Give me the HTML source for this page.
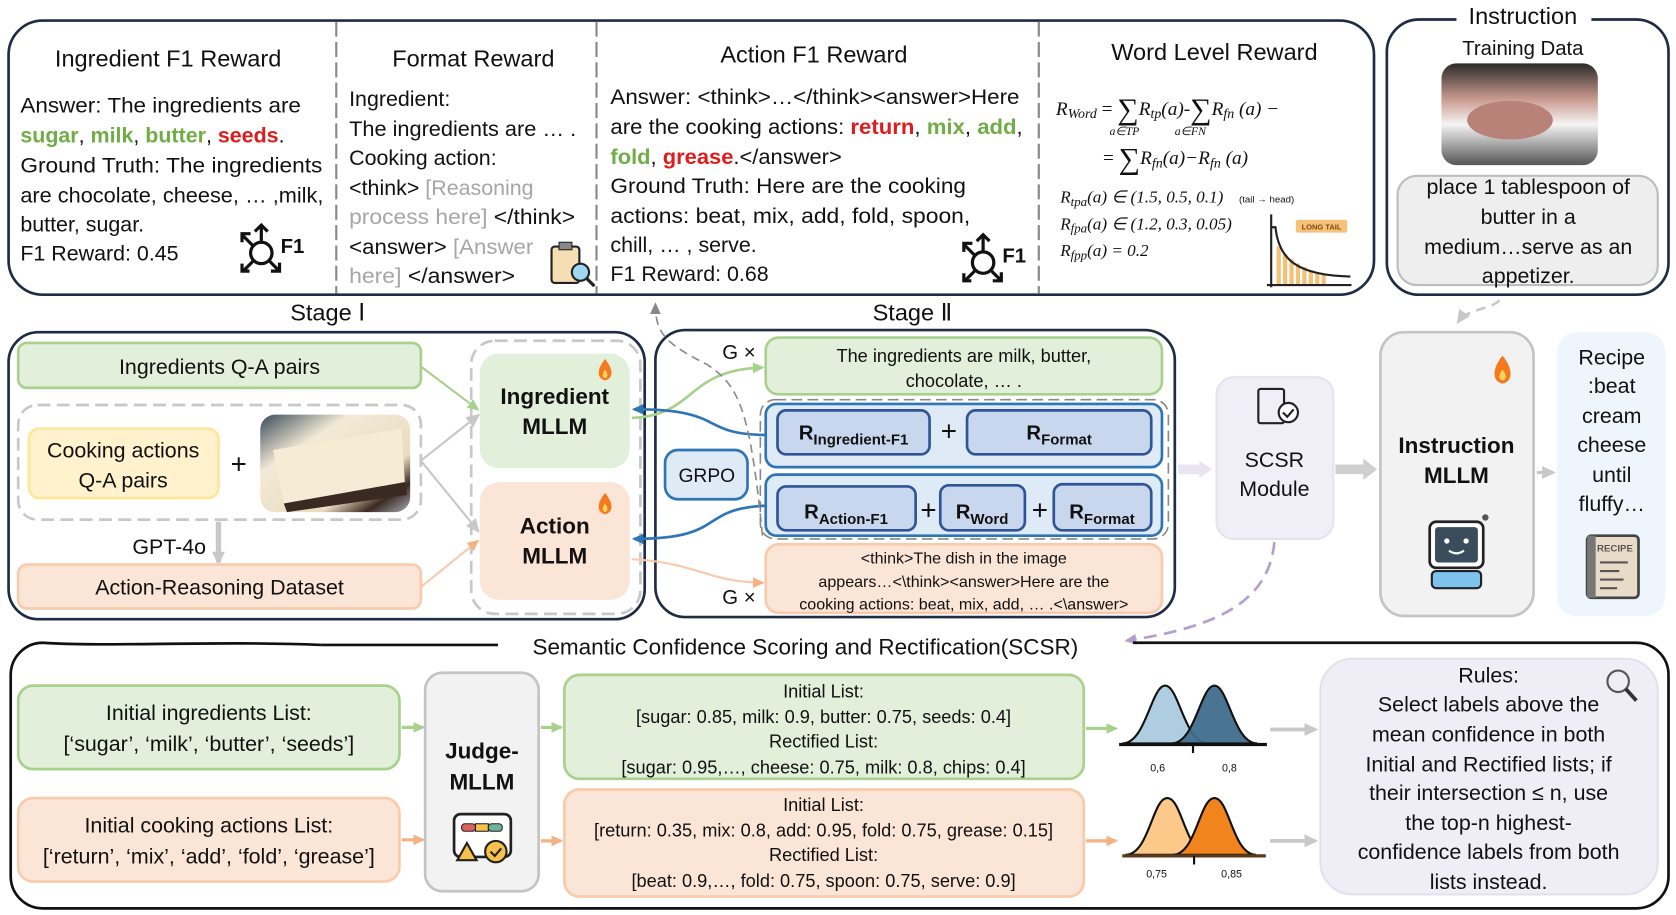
<!DOCTYPE html>
<html><head><meta charset="utf-8"><style>
html,body{margin:0;padding:0;background:#fff}
svg{display:block}
text{font-family:"Liberation Sans","DejaVu Sans",sans-serif;fill:#111}
.c{text-anchor:middle}
.g{fill:#70ad47;font-weight:bold}
.r{fill:#e01b1b;font-weight:bold}
.gr{fill:#a6a6a6}
.b{font-weight:bold}
.m{font-family:"Liberation Serif",serif;font-style:italic}
</style></head><body>
<svg width="1676" height="915" viewBox="0 0 1565 854" xmlns="http://www.w3.org/2000/svg">
<defs>
<marker id="ag" markerUnits="userSpaceOnUse" markerWidth="12" markerHeight="12" refX="9" refY="6" orient="auto"><path d="M0,1L11,6L0,11z" fill="#a9d18e"/></marker>
<marker id="ao" markerUnits="userSpaceOnUse" markerWidth="12" markerHeight="12" refX="9" refY="6" orient="auto"><path d="M0,1L11,6L0,11z" fill="#f4b183"/></marker>
<marker id="ab" markerUnits="userSpaceOnUse" markerWidth="12" markerHeight="12" refX="9" refY="6" orient="auto"><path d="M0,1L11,6L0,11z" fill="#2e75b6"/></marker>
<marker id="ay" markerUnits="userSpaceOnUse" markerWidth="14" markerHeight="14" refX="10" refY="7" orient="auto"><path d="M0,1L13,7L0,13z" fill="#c8c8c8"/></marker>
<marker id="ad" markerUnits="userSpaceOnUse" markerWidth="12" markerHeight="12" refX="9" refY="6" orient="auto"><path d="M0,1L11,6L0,11z" fill="#888"/></marker>
<marker id="ap" markerUnits="userSpaceOnUse" markerWidth="12" markerHeight="12" refX="9" refY="6" orient="auto"><path d="M0,1L11,6L0,11z" fill="#b4a0d0"/></marker>
<linearGradient id="cake" x1="0" y1="0" x2="1" y2="1"><stop offset="0" stop-color="#3a4a5a"/><stop offset="0.3" stop-color="#f3ead6"/><stop offset="0.7" stop-color="#e9dcc0"/><stop offset="0.85" stop-color="#3b2a22"/><stop offset="1" stop-color="#a9adb5"/></linearGradient>
<linearGradient id="food" x1="0" y1="0" x2="0" y2="1"><stop offset="0" stop-color="#2b2b2b"/><stop offset="0.35" stop-color="#c99a8e"/><stop offset="0.6" stop-color="#f4f4f4"/><stop offset="1" stop-color="#555"/></linearGradient>
</defs>

<!-- TOP REWARD BOX -->
<rect x="8" y="19" width="1275" height="256" rx="32" fill="#fff" stroke="#1f2d44" stroke-width="2.5"/>
<line x1="314" y1="20" x2="314" y2="274" stroke="#888" stroke-width="2" stroke-dasharray="14,5"/>
<line x1="557" y1="20" x2="557" y2="274" stroke="#888" stroke-width="2" stroke-dasharray="14,5"/>
<line x1="970" y1="20" x2="970" y2="274" stroke="#888" stroke-width="2" stroke-dasharray="14,5"/>

<text x="157" y="62" class="c" font-size="22">Ingredient F1 Reward</text>
<text x="19" y="105" font-size="20" textLength="262" lengthAdjust="spacingAndGlyphs">Answer: The ingredients are</text>
<text x="19" y="133" font-size="20"><tspan class="g">sugar</tspan>, <tspan class="g">milk</tspan>, <tspan class="g">butter</tspan>, <tspan class="r">seeds</tspan>.</text>
<text x="19" y="161" font-size="20" textLength="282" lengthAdjust="spacingAndGlyphs">Ground Truth: The ingredients</text>
<text x="19" y="189" font-size="20" textLength="283" lengthAdjust="spacingAndGlyphs">are chocolate, cheese, … ,milk,</text>
<text x="19" y="216" font-size="20">butter, sugar.</text>
<text x="19" y="243" font-size="20">F1 Reward: 0.45</text>
<g stroke="#111" stroke-width="3" fill="none">
<circle cx="244" cy="236" r="10"/><path d="M244 226V212M238 216l6-6 6 6M236 229l-10-10M226 226v-8h8M236 244l-9 9M226 246v7h7M252 244l8 8M253 253h8v-8"/></g>
<text x="262" y="236" font-size="19" class="b">F1</text>

<text x="442" y="62" class="c" font-size="22">Format Reward</text>
<text x="326" y="99" font-size="20">Ingredient:</text>
<text x="326" y="127" font-size="20" textLength="212" lengthAdjust="spacingAndGlyphs">The ingredients are … .</text>
<text x="326" y="154" font-size="20">Cooking action:</text>
<text x="326" y="182" font-size="20">&lt;think&gt; <tspan class="gr">[Reasoning</tspan></text>
<text x="326" y="209" font-size="20" textLength="211" lengthAdjust="spacingAndGlyphs"><tspan class="gr">process here]</tspan> &lt;/think&gt;</text>
<text x="326" y="237" font-size="20" textLength="172" lengthAdjust="spacingAndGlyphs">&lt;answer&gt; <tspan class="gr">[Answer</tspan></text>
<text x="326" y="264" font-size="20" textLength="155" lengthAdjust="spacingAndGlyphs"><tspan class="gr">here]</tspan> &lt;/answer&gt;</text>
<rect x="515" y="230" width="26" height="34" rx="3" fill="#f5deb3" stroke="#222" stroke-width="2"/>
<rect x="522" y="226" width="12" height="7" fill="#888" stroke="#222"/>
<circle cx="542" cy="254" r="8" fill="#9fd8f0" stroke="#222" stroke-width="2"/>
<line x1="548" y1="260" x2="555" y2="267" stroke="#222" stroke-width="3"/>

<text x="760" y="58" class="c" font-size="22">Action F1 Reward</text>
<text x="570" y="97" font-size="20" textLength="382" lengthAdjust="spacingAndGlyphs">Answer: &lt;think&gt;…&lt;/think&gt;&lt;answer&gt;Here</text>
<text x="570" y="125" font-size="20" textLength="385" lengthAdjust="spacingAndGlyphs">are the cooking actions: <tspan class="r">return</tspan>, <tspan class="g">mix</tspan>, <tspan class="g">add</tspan>,</text>
<text x="570" y="153" font-size="20" textLength="216" lengthAdjust="spacingAndGlyphs"><tspan class="g">fold</tspan>, <tspan class="r">grease</tspan>.&lt;/answer&gt;</text>
<text x="570" y="180" font-size="20" textLength="332" lengthAdjust="spacingAndGlyphs">Ground Truth: Here are the cooking</text>
<text x="570" y="208" font-size="20" textLength="336" lengthAdjust="spacingAndGlyphs">actions: beat, mix, add, fold, spoon,</text>
<text x="570" y="235" font-size="20">chill, … , serve.</text>
<text x="570" y="262" font-size="20">F1 Reward: 0.68</text>
<g stroke="#111" stroke-width="3" fill="none">
<circle cx="918" cy="245" r="10"/><path d="M918 235V221M912 225l6-6 6 6M910 238l-10-10M900 235v-8h8M910 253l-9 9M900 255v7h7M926 253l8 8M927 262h8v-8"/></g>
<text x="936" y="245" font-size="19" class="b">F1</text>

<text x="1134" y="56" class="c" font-size="22">Word Level Reward</text>
<text x="986" y="107" font-size="18" class="m">R<tspan font-size="13" dy="3">Word</tspan><tspan dy="-3" font-style="normal"> = </tspan><tspan font-style="normal" font-size="28" dy="4">∑</tspan><tspan dy="-4">R</tspan><tspan font-size="13" dy="3">tp</tspan><tspan dy="-3">(a)-</tspan><tspan font-style="normal" font-size="28" dy="4">∑</tspan><tspan dy="-4">R</tspan><tspan font-size="13" dy="3">fn</tspan><tspan dy="-3"> (a) −</tspan></text>
<text x="1036" y="126" font-size="11" class="m">a∈TP</text><text x="1097" y="126" font-size="11" class="m">a∈FN</text>
<text x="1030" y="153" font-size="18" class="m"><tspan font-style="normal">= </tspan><tspan font-style="normal" font-size="28" dy="4">∑</tspan><tspan dy="-4">R</tspan><tspan font-size="13" dy="3">fn</tspan><tspan dy="-3">(a)−R</tspan><tspan font-size="13" dy="3">fn</tspan><tspan dy="-3"> (a)</tspan></text>
<text x="990" y="189" font-size="16" class="m">R<tspan font-size="12" dy="3">tpa</tspan><tspan dy="-3">(a) ∈ (1.5, 0.5, 0.1)</tspan></text>
<text x="1157" y="189" font-size="9">(tail → head)</text>
<text x="990" y="214" font-size="16" class="m">R<tspan font-size="12" dy="3">fpa</tspan><tspan dy="-3">(a) ∈ (1.2, 0.3, 0.05)</tspan></text>
<text x="990" y="239" font-size="16" class="m">R<tspan font-size="12" dy="3">fpp</tspan><tspan dy="-3">(a) = 0.2</tspan></text>
<g fill="#f2c27a"><rect x="1192" y="230" width="4" height="35"/><rect x="1198" y="237" width="4" height="28"/><rect x="1204" y="242" width="4" height="23"/><rect x="1210" y="246" width="4" height="19"/><rect x="1216" y="249" width="4" height="16"/><rect x="1222" y="252" width="4" height="13"/><rect x="1228" y="254" width="4" height="11"/><rect x="1234" y="256" width="4" height="9"/></g>
<path d="M1187 200V268M1183 266H1262M1187 212h4c3 30 20 45 70 46" stroke="#222" stroke-width="2" fill="none"/>
<rect x="1210" y="205" width="48" height="12" rx="2" fill="#f6c27a"/><text x="1234" y="214" class="c" font-size="7" style="fill:#7a4a10" font-weight="bold">LONG TAIL</text>

<!-- INSTRUCTION BOX -->
<path d="M1360 18H1325a30 30 0 0 0-30 30V245a30 30 0 0 0 30 30H1528a30 30 0 0 0 30-30V48a30 30 0 0 0-30-30H1486" stroke="#1f2d44" stroke-width="2.5" fill="none"/>
<text x="1422" y="22" class="c" font-size="22">Instruction</text>
<text x="1422" y="51" class="c" font-size="19">Training Data</text>
<rect x="1346" y="59" width="146" height="95" rx="14" fill="url(#food)"/>
<ellipse cx="1410" cy="112" rx="40" ry="18" fill="#b88278"/>
<rect x="1305" y="164" width="243" height="102" rx="18" fill="#eeeeee" stroke="#bdbdbd" stroke-width="2"/>
<text x="1427" y="181" class="c" font-size="20">place 1 tablespoon of</text>
<text x="1427" y="209" class="c" font-size="20">butter in a</text>
<text x="1427" y="237" class="c" font-size="20">medium…serve as an</text>
<text x="1427" y="264" class="c" font-size="20">appetizer.</text>
<path d="M1400 280c-5 8-30 8-38 20" stroke="#c8c8c8" stroke-width="2.5" stroke-dasharray="9,6" fill="none" marker-end="url(#ay)"/>

<!-- STAGE LABELS -->
<text x="306" y="299" class="c" font-size="22">Stage Ⅰ</text>
<text x="852" y="299" class="c" font-size="22">Stage Ⅱ</text>

<!-- STAGE I -->
<rect x="8" y="310" width="594" height="268" rx="28" fill="#fff" stroke="#1f2d44" stroke-width="2.5"/>
<rect x="17" y="320" width="376" height="42" rx="8" fill="#e2efda" stroke="#a9d18e" stroke-width="2.5"/>
<text x="205" y="349" class="c" font-size="20">Ingredients Q-A pairs</text>
<rect x="17" y="378" width="376" height="107" rx="18" fill="none" stroke="#c8c8c8" stroke-width="2.5" stroke-dasharray="12,6"/>
<rect x="27" y="400" width="177" height="65" rx="10" fill="#fff2cc" stroke="#ffe699" stroke-width="2.5"/>
<text x="115" y="427" class="c" font-size="20">Cooking actions</text>
<text x="115" y="455" class="c" font-size="20">Q-A pairs</text>
<text x="223" y="442" class="c" font-size="26">+</text>
<rect x="243" y="387" width="140" height="91" rx="14" fill="url(#cake)"/>
<path d="M255 420L375 400L378 450L265 470z" fill="#f5ecd6"/>
<path d="M265 470L378 450L380 462L268 478z" fill="#3a2a22"/>
<line x1="204" y1="487" x2="204" y2="525" stroke="#c8c8c8" stroke-width="5" marker-end="url(#ay)"/>
<text x="158" y="517" class="c" font-size="20">GPT-4o</text>
<rect x="17" y="527" width="376" height="41" rx="8" fill="#fbe5d6" stroke="#f8cbad" stroke-width="2.5"/>
<text x="205" y="555" class="c" font-size="20">Action-Reasoning Dataset</text>

<rect x="440" y="318" width="158" height="255" rx="22" fill="none" stroke="#c8c8c8" stroke-width="2.5" stroke-dasharray="12,6"/>
<rect x="448" y="330" width="140" height="107" rx="18" fill="#e2efda"/>
<text x="518" y="377" class="c b" font-size="21">Ingredient</text>
<text x="518" y="405" class="c b" font-size="21">MLLM</text>
<rect x="448" y="450" width="140" height="110" rx="18" fill="#fbe5d6"/>
<text x="518" y="498" class="c b" font-size="21">Action</text>
<text x="518" y="526" class="c b" font-size="21">MLLM</text>
<g><path d="M565 335c-8 10-8 18 0 20 8-2 8-10 0-20z" fill="#f47a20"/><path d="M565 345c-3 4-3 7 0 8 3-1 3-4 0-8z" fill="#ffd35a"/></g>
<g><path d="M565 460c-8 10-8 18 0 20 8-2 8-10 0-20z" fill="#f47a20"/><path d="M565 470c-3 4-3 7 0 8 3-1 3-4 0-8z" fill="#ffd35a"/></g>

<path d="M393 342L446 382" stroke="#a9d18e" stroke-width="2" marker-end="url(#ag)"/>
<path d="M393 430L446 388" stroke="#c8c8c8" stroke-width="2" marker-end="url(#ay)"/>
<path d="M393 430L446 495" stroke="#c8c8c8" stroke-width="2" marker-end="url(#ay)"/>
<path d="M393 548L446 505" stroke="#f8cbad" stroke-width="2" marker-end="url(#ao)"/>

<!-- STAGE II -->
<rect x="612" y="308" width="485" height="268" rx="28" fill="#fff" stroke="#1f2d44" stroke-width="2.5"/>
<text x="690" y="335" class="c" font-size="19">G ×</text>
<text x="690" y="564" class="c" font-size="19">G ×</text>
<rect x="715" y="315" width="370" height="53" rx="12" fill="#e2efda" stroke="#a9d18e" stroke-width="2.5"/>
<text x="900" y="338" class="c" font-size="17">The ingredients are milk, butter,</text>
<text x="900" y="361" class="c" font-size="17">chocolate, … .</text>
<rect x="710" y="373" width="381" height="130" rx="14" fill="none" stroke="#888" stroke-width="1.5" stroke-dasharray="10,5"/>
<rect x="715" y="377" width="370" height="59" rx="10" fill="#deebf7" stroke="#2e75b6" stroke-width="2.5"/>
<rect x="726" y="383" width="142" height="41" rx="8" fill="#c9d7ee" stroke="#2f5597" stroke-width="2.5"/>
<text x="797" y="410" class="c b" font-size="19">R<tspan font-size="14" dy="5">Ingredient-F1</tspan></text>
<text x="886" y="411" class="c" font-size="26">+</text>
<rect x="903" y="383" width="172" height="41" rx="8" fill="#c9d7ee" stroke="#2f5597" stroke-width="2.5"/>
<text x="989" y="410" class="c b" font-size="19">R<tspan font-size="14" dy="5">Format</tspan></text>
<rect x="715" y="443" width="370" height="57" rx="10" fill="#deebf7" stroke="#2e75b6" stroke-width="2.5"/>
<rect x="726" y="454" width="129" height="41" rx="8" fill="#c9d7ee" stroke="#2f5597" stroke-width="2.5"/>
<text x="790" y="484" class="c b" font-size="19">R<tspan font-size="14" dy="5">Action-F1</tspan></text>
<text x="867" y="485" class="c" font-size="26">+</text>
<rect x="878" y="453" width="79" height="42" rx="8" fill="#c9d7ee" stroke="#2f5597" stroke-width="2.5"/>
<text x="917" y="484" class="c b" font-size="19">R<tspan font-size="14" dy="5">Word</tspan></text>
<text x="971" y="485" class="c" font-size="26">+</text>
<rect x="984" y="452" width="91" height="43" rx="8" fill="#c9d7ee" stroke="#2f5597" stroke-width="2.5"/>
<text x="1029" y="484" class="c b" font-size="19">R<tspan font-size="14" dy="5">Format</tspan></text>
<rect x="621" y="420" width="77" height="46" rx="12" fill="#deebf7" stroke="#2e75b6" stroke-width="2.5"/>
<text x="660" y="450" class="c" font-size="18">GRPO</text>
<rect x="715" y="508" width="370" height="64" rx="12" fill="#fbe5d6" stroke="#f8cbad" stroke-width="2.5"/>
<text x="900" y="526" class="c" font-size="15">&lt;think&gt;The dish in the image</text>
<text x="900" y="548" class="c" font-size="15">appears…&lt;\think&gt;&lt;answer&gt;Here are the</text>
<text x="900" y="569" class="c" font-size="15">cooking actions: beat, mix, add, … .&lt;\answer&gt;</text>

<path d="M590 390C650 388 640 345 712 343" stroke="#a9d18e" stroke-width="2.5" fill="none" marker-end="url(#ag)"/>
<path d="M715 406C650 405 680 382 592 382" stroke="#2e75b6" stroke-width="2.5" fill="none" marker-end="url(#ab)"/>
<path d="M715 472C650 475 680 503 592 503" stroke="#2e75b6" stroke-width="2.5" fill="none" marker-end="url(#ab)"/>
<path d="M590 522C650 525 660 543 712 544" stroke="#f8cbad" stroke-width="2" fill="none" marker-end="url(#ao)"/>
<path d="M712 500C700 380 690 360 660 340C620 320 612 310 612 284" stroke="#888" stroke-width="1.5" stroke-dasharray="8,5" fill="none" marker-end="url(#ad)"/>

<!-- SCSR MODULE -->
<path d="M1100 438H1122" stroke="#e8e4f0" stroke-width="9" fill="none"/><path d="M1120 430l12 8-12 8z" fill="#e8e4f0"/>
<rect x="1136" y="352" width="109" height="151" rx="16" fill="#f0eef6" stroke="#e6e2ee" stroke-width="2"/>
<rect x="1175" y="363" width="24" height="32" rx="2" fill="none" stroke="#222" stroke-width="2"/>
<circle cx="1203" cy="385" r="9" fill="#fff" stroke="#222" stroke-width="2"/><path d="M1198 385l4 4 6-7" stroke="#222" stroke-width="2" fill="none"/>
<text x="1190" y="436" class="c" font-size="20">SCSR</text>
<text x="1190" y="463" class="c" font-size="20">Module</text>
<path d="M1247 438H1275" stroke="#d0d0d0" stroke-width="9" fill="none"/><path d="M1273 428l13 10-13 10z" fill="#d0d0d0"/>
<path d="M1190 506C1185 560 1140 585 1052 598" stroke="#b4a0d0" stroke-width="2.5" stroke-dasharray="12,7" fill="none" marker-end="url(#ap)"/>

<rect x="1289" y="310" width="143" height="265" rx="22" fill="#f2f2f2" stroke="#c4c4c4" stroke-width="2.5"/>
<text x="1360" y="423" class="c b" font-size="21">Instruction</text>
<text x="1360" y="451" class="c b" font-size="21">MLLM</text>
<g><path d="M1403 332c-10 12-10 24 0 26 10-2 10-14 0-26z" fill="#f47a20"/><path d="M1403 345c-4 5-4 9 0 10 4-1 4-5 0-10z" fill="#ffd35a"/></g>
<rect x="1335" y="487" width="50" height="43" rx="6" fill="#fff" stroke="#222" stroke-width="2.5"/>
<rect x="1340" y="492" width="40" height="33" rx="3" fill="#3a4d5c"/>
<circle cx="1351" cy="505" r="2.5" fill="#fff"/><circle cx="1369" cy="505" r="2.5" fill="#fff"/>
<path d="M1353 514q7 5 14 0" stroke="#fff" stroke-width="2" fill="none"/>
<circle cx="1387" cy="483" r="3" fill="#555"/>
<rect x="1337" y="533" width="46" height="16" rx="4" fill="#7ec3ee" stroke="#222" stroke-width="2"/>
<path d="M1435 441H1450" stroke="#c8c8c8" stroke-width="3" marker-end="url(#ay)"/>
<rect x="1454" y="310" width="101" height="265" rx="18" fill="#eef5fc"/>
<text x="1505" y="340" class="c" font-size="20">Recipe</text>
<text x="1505" y="367" class="c" font-size="20">:beat</text>
<text x="1505" y="395" class="c" font-size="20">cream</text>
<text x="1505" y="422" class="c" font-size="20">cheese</text>
<text x="1505" y="450" class="c" font-size="20">until</text>
<text x="1505" y="477" class="c" font-size="20">fluffy…</text>
<rect x="1482" y="500" width="48" height="58" rx="4" fill="#e8dcc8" stroke="#444" stroke-width="2.5"/>
<rect x="1482" y="500" width="8" height="58" fill="#777"/>
<text x="1508" y="515" class="c b" font-size="9" style="fill:#555">RECIPE</text>
<path d="M1494 525h26M1494 533h18M1494 541h22M1494 549h16" stroke="#555" stroke-width="2"/>

<!-- SCSR BOTTOM -->
<path d="M300 602C200 598 100 604 40 600A30 30 0 0 0 10 630V818a30 30 0 0 0 30 30H1528a30 30 0 0 0 30-30V630a30 30 0 0 0-30-30H1058" stroke="#111" stroke-width="2.5" fill="none"/>
<path d="M300 602H465" stroke="#111" stroke-width="2.5"/>
<rect x="468" y="588" width="580" height="28" fill="#fff"/>
<text x="752" y="611" class="c" font-size="21">Semantic Confidence Scoring and Rectification(SCSR)</text>

<rect x="17" y="640" width="356" height="78" rx="14" fill="#e2efda" stroke="#a9d18e" stroke-width="2.5"/>
<text x="195" y="672" class="c" font-size="20">Initial ingredients List:</text>
<text x="195" y="701" class="c" font-size="20">[‘sugar’, ‘milk’, ‘butter’, ‘seeds’]</text>
<rect x="17" y="745" width="356" height="78" rx="14" fill="#fbe5d6" stroke="#f8cbad" stroke-width="2.5"/>
<text x="195" y="777" class="c" font-size="20">Initial cooking actions List:</text>
<text x="195" y="806" class="c" font-size="20">[‘return’, ‘mix’, ‘add’, ‘fold’, ‘grease’]</text>
<path d="M375 679H395" stroke="#a9d18e" stroke-width="3" marker-end="url(#ag)"/>
<path d="M375 784H395" stroke="#f4b183" stroke-width="3" marker-end="url(#ao)"/>
<rect x="397" y="628" width="106" height="204" rx="16" fill="#f2f2f2" stroke="#c4c4c4" stroke-width="2.5"/>
<text x="450" y="708" class="c b" font-size="21">Judge-</text>
<text x="450" y="737" class="c b" font-size="21">MLLM</text>
<rect x="424" y="760" width="53" height="40" rx="6" fill="#fff" stroke="#222" stroke-width="2.5"/>
<rect x="431" y="769" width="13" height="7" rx="3" fill="#e06060" stroke="#222"/><rect x="444" y="769" width="12" height="7" fill="#f6c24b" stroke="#222"/><rect x="456" y="769" width="13" height="7" rx="3" fill="#70b39a" stroke="#222"/>
<path d="M436 787l-9 16h18z" fill="#f6c24b" stroke="#222" stroke-width="2"/>
<circle cx="463" cy="795" r="10" fill="#f6c24b" stroke="#222" stroke-width="2"/><path d="M458 795l4 4 6-7" stroke="#222" stroke-width="2" fill="none"/>
<path d="M505 679H524" stroke="#a9d18e" stroke-width="3" marker-end="url(#ag)"/>
<path d="M505 785H524" stroke="#f4b183" stroke-width="3" marker-end="url(#ao)"/>

<rect x="527" y="630" width="485" height="97" rx="14" fill="#e2efda" stroke="#a9d18e" stroke-width="2.5"/>
<text x="769" y="651" class="c" font-size="17">Initial List:</text>
<text x="769" y="675" class="c" font-size="17">[sugar: 0.85, milk: 0.9, butter: 0.75, seeds: 0.4]</text>
<text x="769" y="698" class="c" font-size="17">Rectified List:</text>
<text x="769" y="722" class="c" font-size="17">[sugar: 0.95,…, cheese: 0.75, milk: 0.8, chips: 0.4]</text>
<rect x="527" y="737" width="485" height="100" rx="14" fill="#fbe5d6" stroke="#f8cbad" stroke-width="2.5"/>
<text x="769" y="757" class="c" font-size="17">Initial List:</text>
<text x="769" y="781" class="c" font-size="17">[return: 0.35, mix: 0.8, add: 0.95, fold: 0.75, grease: 0.15]</text>
<text x="769" y="804" class="c" font-size="17">Rectified List:</text>
<text x="769" y="828" class="c" font-size="17">[beat: 0.9,…, fold: 0.75, spoon: 0.75, serve: 0.9]</text>
<path d="M1014 680H1042" stroke="#a9d18e" stroke-width="3" marker-end="url(#ag)"/>
<path d="M1014 785H1042" stroke="#f4b183" stroke-width="3" marker-end="url(#ao)"/>

<path d="M1048 694C1070 694 1075 640 1088 640C1101 640 1106 694 1128 694z" fill="#afcde0" stroke="#111" stroke-width="2"/>
<path d="M1094 694C1116 694 1121 640 1134 640C1147 640 1152 694 1174 694z" fill="#3f6e8c" stroke="#111" stroke-width="2" fill-opacity="0.95"/>
<line x1="1045" y1="695" x2="1183" y2="695" stroke="#111" stroke-width="3"/><line x1="1114" y1="695" x2="1114" y2="703" stroke="#111" stroke-width="2"/>
<text x="1081" y="720" class="c" font-size="10">0,6</text><text x="1148" y="720" class="c" font-size="10">0,8</text>
<path d="M1051 798C1073 798 1076 745 1090 745C1104 745 1107 798 1129 798z" fill="#fdc98a" stroke="#111" stroke-width="2"/>
<path d="M1095 798C1117 798 1120 745 1134 745C1148 745 1151 798 1173 798z" fill="#f2841e" stroke="#111" stroke-width="2"/>
<line x1="1048" y1="799" x2="1182" y2="799" stroke="#5a3a1a" stroke-width="3"/><line x1="1115" y1="799" x2="1115" y2="807" stroke="#111" stroke-width="2"/>
<text x="1080" y="819" class="c" font-size="10">0,75</text><text x="1150" y="819" class="c" font-size="10">0,85</text>
<path d="M1186 681H1228" stroke="#c8c8c8" stroke-width="3.5" marker-end="url(#ay)"/>
<path d="M1186 785H1228" stroke="#c8c8c8" stroke-width="3.5" marker-end="url(#ay)"/>

<rect x="1233" y="615" width="315" height="220" rx="30" fill="#efedf5" stroke="#e4e1ec" stroke-width="2"/>
<text x="1390" y="637" class="c" font-size="20">Rules:</text>
<text x="1390" y="664" class="c" font-size="20">Select labels above the</text>
<text x="1390" y="692" class="c" font-size="20">mean confidence in both</text>
<text x="1390" y="720" class="c" font-size="20">Initial and Rectified lists; if</text>
<text x="1390" y="747" class="c" font-size="20">their intersection ≤ n, use</text>
<text x="1390" y="775" class="c" font-size="20">the top-n highest-</text>
<text x="1390" y="802" class="c" font-size="20">confidence labels from both</text>
<text x="1390" y="830" class="c" font-size="20">lists instead.</text>
<circle cx="1511" cy="636" r="10" fill="none" stroke="#555" stroke-width="2"/><line x1="1518" y1="643" x2="1528" y2="654" stroke="#333" stroke-width="3.5"/>
</svg>
</body></html>
